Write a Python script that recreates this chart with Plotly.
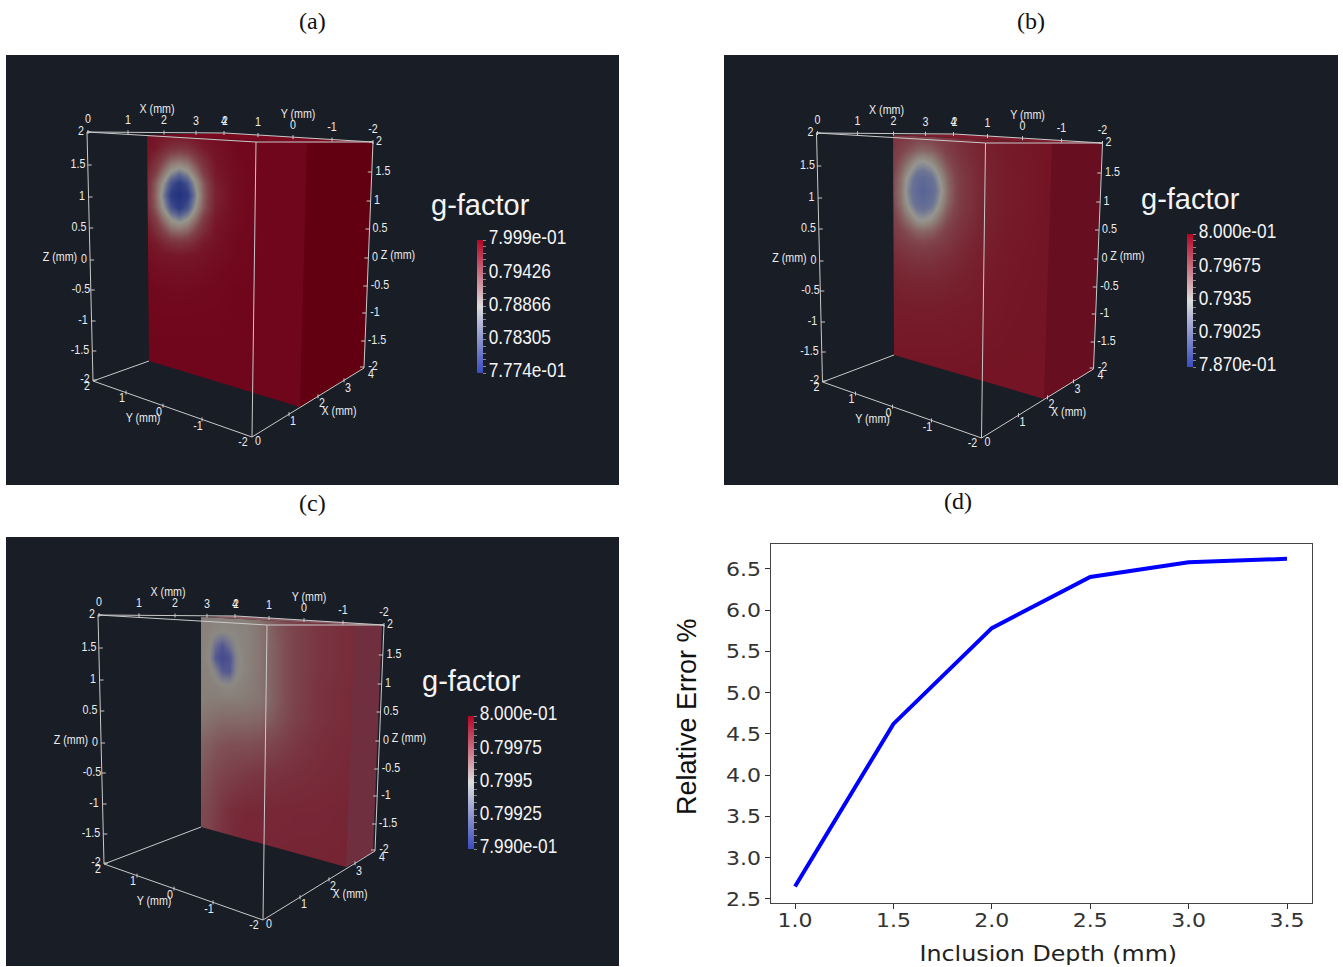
import plotly.graph_objects as go

W, H = 1343, 967
BG = "#191d26"
SANS = "Liberation Sans, Arial, sans-serif"

# ---------- data: panel (d) ----------
depth_mm = [1.0, 1.5, 2.0, 2.5, 3.0, 3.5]
relative_error = [2.65, 4.62, 5.78, 6.40, 6.58, 6.62]

# ---------- data: colour bars ----------
panel_names = ["(a)", "(b)", "(c)", "(d)"]
gmin_a, gmax_a = 0.7774, 0.7999
gmin_b, gmax_b = 0.7870, 0.8000
gmin_c, gmax_c = 0.7990, 0.8000
ticks_a = ["7.774e-01", "0.78305", "0.78866", "0.79426", "7.999e-01"]
ticks_b = ["7.870e-01", "0.79025", "0.7935", "0.79675", "8.000e-01"]
ticks_c = ["7.990e-01", "0.79925", "0.7995", "0.79975", "8.000e-01"]

# ---------- data: g-factor level on the visible face (0 = bottom of bar, 1 = top) ----------
level_a = [
    [.935, .92, .905, .90, .89, .90, .905, .92, .945, .98, 1, 1],
    [.915, .89, .825, .78, .765, .78, .825, .89, .925, .98, 1, 1],
    [.89, .795, .70, .60, .575, .60, .70, .795, .91, .97, 1, 1],
    [.84, .725, .565, .42, .35, .42, .565, .725, .89, .965, 1, 1],
    [.795, .625, .42, .20, .09, .20, .42, .625, .855, .96, 1, 1],
    [.78, .60, .35, .09, .00, .09, .35, .60, .84, .96, 1, 1],
    [.795, .625, .42, .20, .09, .20, .42, .625, .855, .96, 1, 1],
    [.84, .725, .565, .42, .35, .42, .565, .725, .89, .965, 1, 1],
    [.89, .795, .70, .60, .575, .60, .70, .795, .91, .97, 1, 1],
    [.915, .89, .825, .78, .765, .78, .825, .89, .925, .98, 1, 1],
    [.935, .92, .905, .90, .89, .90, .905, .92, .945, .98, 1, 1],
    [.965, .95, .94, .935, .93, .935, .94, .95, .97, .99, 1, 1],
    [.985, .98, .975, .97, .97, .97, .975, .98, .985, 1, 1, 1],
    [.995, .995, .995, .995, .995, .995, .995, .995, .995, 1, 1, 1],
    [1, 1, 1, 1, 1, 1, 1, 1, 1, 1, 1, 1],
    [1, 1, 1, 1, 1, 1, 1, 1, 1, 1, 1, 1],
]
level_b = [
    [.80, .76, .73, .715, .71, .72, .74, .77, .83, .92, .97, 1],
    [.75, .69, .64, .59, .58, .60, .65, .72, .79, .905, .96, 1],
    [.71, .61, .50, .37, .345, .41, .53, .64, .76, .89, .955, 1],
    [.67, .55, .36, .15, .09, .20, .42, .58, .74, .885, .95, 1],
    [.66, .54, .30, .08, .00, .10, .36, .56, .74, .88, .95, 1],
    [.67, .55, .36, .15, .09, .20, .42, .58, .74, .885, .95, 1],
    [.71, .61, .50, .37, .345, .41, .53, .64, .76, .89, .955, 1],
    [.75, .69, .64, .59, .58, .60, .65, .72, .79, .905, .96, 1],
    [.80, .76, .73, .715, .71, .72, .74, .77, .83, .92, .97, 1],
    [.84, .82, .80, .79, .79, .79, .81, .825, .86, .935, .975, 1],
    [.89, .875, .865, .86, .86, .86, .865, .88, .905, .95, .98, 1],
    [.94, .93, .93, .925, .925, .925, .93, .935, .945, .965, .985, 1],
    [.97, .965, .965, .965, .965, .965, .965, .965, .97, .98, .99, 1],
    [.99, .99, .99, .99, .99, .99, .99, .99, .99, .995, 1, 1],
    [1, 1, 1, 1, 1, 1, 1, 1, 1, 1, 1, 1],
]
level_c = [
    [.45, .43, .42, .42, .42, .43, .45, .52, .66, .80, .90, .95],
    [.42, .41, .38, .36, .37, .39, .42, .50, .64, .78, .88, .95],
    [.42, .37, .20, .10, .22, .35, .42, .50, .62, .78, .88, .95],
    [.42, .35, .12, .00, .08, .30, .42, .50, .62, .78, .88, .95],
    [.43, .40, .30, .12, .10, .32, .42, .50, .62, .78, .88, .95],
    [.44, .43, .42, .38, .36, .40, .44, .50, .62, .78, .90, .95],
    [.44, .46, .46, .46, .46, .46, .47, .50, .62, .78, .90, .96],
    [.50, .52, .54, .56, .56, .56, .56, .58, .66, .80, .90, .96],
    [.60, .62, .66, .68, .70, .70, .70, .72, .78, .86, .93, .97],
    [.66, .70, .74, .78, .80, .82, .85, .88, .90, .92, .95, .98],
    [.72, .76, .82, .88, .92, .95, .97, .97, .97, .98, .98, 1],
    [.75, .80, .85, .90, .95, .97, 1, 1, 1, 1, 1, 1],
]

# ---------- layout constants (page pixels) ----------
grid_a = ([147, 155, 163, 171, 179, 187, 195, 203, 215, 235, 260, 307],
          [135, 147, 159, 171, 183, 195, 207, 219, 231, 243, 255, 270, 290, 320, 360, 407])
grid_b = ([893, 901, 909, 917, 923, 931, 939, 947, 960, 985, 1010, 1052],
          [135, 150, 165, 178, 190, 202, 215, 230, 245, 260, 280, 305, 335, 370, 400])
grid_c = ([201, 209, 215, 222, 229, 236, 246, 260, 275, 295, 320, 355],
          [615, 630, 645, 657, 670, 685, 700, 720, 745, 775, 810, 870])

scale_a = [[0, "rgb(35,50,125)"], [.12, "rgb(48,62,132)"], [.27, "rgb(90,100,145)"], [.42, "rgb(150,150,140)"],
           [.52, "rgb(145,125,120)"], [.7, "rgb(128,65,72)"], [.9, "rgb(118,22,40)"], [1, "rgb(112,6,28)"]]
scale_b = [[0, "rgb(88,100,150)"], [.25, "rgb(108,116,148)"], [.42, "rgb(150,150,145)"], [.52, "rgb(142,125,118)"],
           [.68, "rgb(128,70,78)"], [.85, "rgb(120,40,52)"], [1, "rgb(116,20,36)"]]
scale_c = [[0, "rgb(68,74,140)"], [.12, "rgb(85,90,145)"], [.25, "rgb(120,120,142)"], [.35, "rgb(140,138,132)"],
           [.45, "rgb(136,126,120)"], [.7, "rgb(126,78,84)"], [1, "rgb(118,36,52)"]]
bar_scale = [[0, "rgb(59,76,192)"], [.5, "rgb(221,221,221)"], [1, "rgb(180,4,38)"]]

# box geometry template, panel (a) pixels
TL, BLc, FT, FB, RT, RB, BT = (87, 132), (93, 381), (256, 142), (252, 437), (373, 142), (364, 368), (225, 133)

label_text = ["0", "1", "2", "3", "4", "2", "1", "0", "-1", "-2",
              "2", "1.5", "1", "0.5", "0", "-0.5", "-1", "-1.5", "-2",
              "2", "1.5", "1", "0.5", "0", "-0.5", "-1", "-1.5", "-2",
              "2", "1", "0", "-1", "-2", "0", "1", "2", "3", "4",
              "X (mm)", "Y (mm)", "Z (mm)", "Z (mm)", "Y (mm)", "X (mm)"]
label_x = [88, 128, 164, 196, 224, 225, 258, 293, 332, 373,
           81, 78, 82, 79, 84, 81, 83, 80, 85,
           379, 383, 377, 380, 375, 380, 375, 377, 373,
           87, 122, 159, 198, 243, 258, 293, 322, 348, 371,
           157, 298, 60, 398, 143, 339]
label_y = [120, 121, 121, 122, 122, 122, 123, 126, 128, 130,
           132, 165, 197, 228, 260, 290, 321, 351, 380,
           142, 172, 201, 229, 258, 286, 313, 341, 367,
           387, 399, 413, 427, 443, 442, 422, 404, 389, 375,
           110, 115, 258, 256, 419, 412]

panels = [
    dict(off=(0, 0), rect=(6, 55, 619, 485), grid=grid_a, level=level_a, scale=scale_a,
         face=[(147, 135), (307, 143), (300, 407), (149, 361)], side=[(373, 142), (364, 368)],
         side_color="#620012", top_color="#7a0a20",
         gmin=gmin_a, gmax=gmax_a, ticks=ticks_a, bar=(477, 240), title=(481, 205)),
    dict(off=(729.5, 1), rect=(724, 55, 1338, 485), grid=grid_b, level=level_b, scale=scale_b,
         face=[(893, 135), (1052, 143), (1044, 399), (894, 355)], side=[(1102, 143), (1093, 370)],
         side_color="#670e20", top_color="#7d1c2c",
         gmin=gmin_b, gmax=gmax_b, ticks=ticks_b, bar=(1187, 234), title=(1191, 199)),
    dict(off=(11, 483), rect=(6, 537, 619, 966), grid=grid_c, level=level_c, scale=scale_c,
         face=[(201, 617), (355, 625), (346, 867), (201, 827)], side=[(382, 625), (373, 852)],
         side_color="#702f3f", top_color="#8a5a60",
         gmin=gmin_c, gmax=gmax_c, ticks=ticks_c, bar=(468, 716), title=(472, 681)),
]


def lerp_x(p, q, x):
    return p[1] + (q[1] - p[1]) * (x - p[0]) / (q[0] - p[0])


def lerp_y(p, q, y):
    return p[0] + (q[0] - p[0]) * (y - p[1]) / (q[1] - p[1])


fig = go.Figure()
shapes, annotations = [], []


def poly(pts, color):
    fig.add_trace(go.Scatter(x=[p[0] for p in pts] + [pts[0][0]], y=[p[1] for p in pts] + [pts[0][1]],
                             mode="lines", fill="toself", fillcolor=color, line=dict(width=0, color=color),
                             hoverinfo="skip", showlegend=False))


for P in panels:
    dx, dy = P["off"]
    s = lambda p: (p[0] + dx, p[1] + dy)
    x0, y0, x1, y1 = P["rect"]
    shapes.append(dict(type="rect", xref="x", yref="y", x0=x0, y0=y0, x1=x1, y1=y1,
                       fillcolor=BG, line=dict(width=0), layer="below"))

    fig.add_trace(go.Heatmap(x=P["grid"][0], y=P["grid"][1], z=P["level"], zmin=0, zmax=1, zsmooth="best",
                             colorscale=P["scale"], showscale=False, hoverinfo="skip"))

    ftl, ftr, fbr, fbl = P["face"]
    rt, rb = P["side"]
    # surround of the heat map takes the panel colour again
    left = ftl[0] - 40
    right = rt[0] + 20
    poly([(left, ftl[1] - 40), (right, ftl[1] - 40), (right, ftr[1]), ftr, ftl, (left, ftl[1])], BG)
    poly([(left, ftl[1] - 2), ftl, fbl, (left, fbl[1])], BG)
    poly([(left, fbl[1]), fbl, fbr, rb, (right, rb[1]), (right, fbr[1] + 50), (left, fbr[1] + 50)], BG)
    # side and top of the block
    poly([ftr, rt, rb, fbr], P["side_color"])
    poly([ftl, s(BT), rt, ftr], P["top_color"])

    # box edges
    ex, ey = [], []
    for a, b in [(s(TL), s(BLc)), (s(TL), s(FT)), (s(TL), s(BT)), (s(BT), s(RT)), (s(FT), s(RT)),
                 (s(FT), s(FB)), (s(RT), s(RB)), (s(BLc), s(FB)), (s(FB), s(RB)), (s(BLc), fbl)]:
        ex += [a[0], b[0], None]
        ey += [a[1], b[1], None]
    # tick marks on the box edges, at the labels
    tick_len = 4
    for i in range(5):
        px = label_x[i] + dx
        py = lerp_x(s(TL), s(BT), px)
        ex += [px, px, None]
        ey += [py - tick_len / 2, py + tick_len / 2, None]
    for i in range(6, 10):
        px = label_x[i] + dx
        py = lerp_x(s(BT), s(RT), px)
        ex += [px, px, None]
        ey += [py - tick_len / 2, py + tick_len / 2, None]
    for i in range(10, 19):
        py = label_y[i] + dy
        px = lerp_y(s(TL), s(BLc), py)
        ex += [px, px + tick_len, None]
        ey += [py, py, None]
    for i in range(19, 28):
        py = label_y[i] + dy
        px = lerp_y(s(RT), s(RB), py)
        ex += [px - tick_len, px, None]
        ey += [py, py, None]
    for i in range(29, 32):
        px = label_x[i] + dx + 4
        py = lerp_x(s(BLc), s(FB), px)
        ex += [px, px, None]
        ey += [py - tick_len / 2, py + tick_len / 2, None]
    for i in range(34, 37):
        px = label_x[i] + dx - 4
        py = lerp_x(s(FB), s(RB), px)
        ex += [px, px, None]
        ey += [py - tick_len / 2, py + tick_len / 2, None]
    fig.add_trace(go.Scatter(x=ex, y=ey, mode="lines", line=dict(color="#c9c9c9", width=1),
                             hoverinfo="skip", showlegend=False))

    # axis labels
    fig.add_trace(go.Scatter(x=[v + dx for v in label_x], y=[v + dy for v in label_y], text=label_text,
                             mode="text", textposition="middle center",
                             textfont=dict(family=SANS, size=13, color="#ececec"),
                             hoverinfo="skip", showlegend=False))

    # colour bar
    step = (P["gmax"] - P["gmin"]) / 20
    tickvals = [P["gmin"] + i * step for i in range(21)]
    ticktext = [P["ticks"][i // 5] if i % 5 == 0 else " " for i in range(21)]
    fig.add_trace(go.Scatter(x=[None, None], y=[None, None], mode="markers", hoverinfo="skip", showlegend=False,
                             marker=dict(color=[P["gmin"], P["gmax"]], cmin=P["gmin"], cmax=P["gmax"],
                                         colorscale=bar_scale, showscale=True,
                                         colorbar=dict(x=P["bar"][0] / W, xanchor="left", xpad=0,
                                                       y=1 - P["bar"][1] / H, yanchor="top", ypad=0,
                                                       lenmode="pixels", len=133, thicknessmode="pixels", thickness=6,
                                                       outlinewidth=0, bgcolor="rgba(0,0,0,0)",
                                                       tickmode="array", tickvals=tickvals, ticktext=ticktext,
                                                       ticks="outside", ticklen=3, tickwidth=1, tickcolor="#8a8a8a",
                                                       tickfont=dict(family=SANS, size=21, color="#f4f4f4")))))
    annotations.append(dict(text="g-factor", x=P["title"][0] - 1, y=P["title"][1], xref="x", yref="y",
                            showarrow=False, font=dict(family=SANS, size=29, color="#f4f4f4")))

# panel (d)
fig.add_trace(go.Scatter(x=depth_mm, y=relative_error, mode="lines", xaxis="x2", yaxis="y2",
                         line=dict(color="#0000ff", width=4), showlegend=False))

for name, px, py in zip(panel_names, [312, 1031, 312, 958], [21, 21, 503, 501]):
    annotations.append(dict(text=name, x=px, y=py, xref="x", yref="y", showarrow=False,
                            font=dict(family="Liberation Serif, Times New Roman, serif", size=24, color="#111111")))
annotations.append(dict(text="Inclusion Depth (mm)", x=1048.5, y=953, xref="x", yref="y", showarrow=False,
                        font=dict(family="DejaVu Sans", size=22, color="#222222")))
annotations.append(dict(text="Relative Error %", x=687, y=717, xref="x", yref="y", showarrow=False, textangle=-90,
                        font=dict(family=SANS, size=27, color="#111111")))

fig.update_layout(
    width=W, height=H, margin=dict(l=0, r=0, t=0, b=0, pad=0),
    paper_bgcolor="white", plot_bgcolor="rgba(0,0,0,0)", showlegend=False,
    shapes=shapes, annotations=annotations,
    xaxis=dict(domain=[0, 1], range=[0, W], visible=False, fixedrange=True),
    yaxis=dict(domain=[0, 1], range=[H, 0], visible=False, fixedrange=True),
    xaxis2=dict(domain=[771 / W, 1312 / W], anchor="y2", range=[0.878, 3.627], automargin=False,
                tickmode="array", tickvals=depth_mm, tickformat=".1f",
                ticks="outside", ticklen=5, tickcolor="#333333",
                tickfont=dict(family="DejaVu Sans", size=20, color="#333333"),
                showgrid=False, zeroline=False, showline=True, mirror=True, linecolor="#444444", linewidth=1),
    yaxis2=dict(domain=[1 - 903 / H, 1 - 544 / H], anchor="x2", range=[2.45, 6.80], automargin=False,
                tickmode="array", tickvals=[2.5, 3.0, 3.5, 4.0, 4.5, 5.0, 5.5, 6.0, 6.5], tickformat=".1f",
                ticks="outside", ticklen=5, tickcolor="#333333",
                tickfont=dict(family="DejaVu Sans", size=20, color="#333333"),
                showgrid=False, zeroline=False, showline=True, mirror=True, linecolor="#444444", linewidth=1),
)

# The reference's text is stretched or squeezed sideways; fit real text to the same widths.
squeeze = """
document.body.style.margin='0';document.body.style.overflow='hidden';
var gd=document.getElementById('{plot_id}');
var factors={'13px':0.82,'21px':0.82,'20px':1.1,'22px':1.08};
function fit(){gd.querySelectorAll('svg text').forEach(function(t){
  var fs=t.style.fontSize,f=factors[fs];
  if(!f||!t.textContent.trim()||t.getAttribute('textLength'))return;
  var n=t.getComputedTextLength();
  if(n>0){t.setAttribute('textLength',n*f);t.setAttribute('lengthAdjust','spacingAndGlyphs');
    if(fs==='21px'){t.setAttribute('dy','-3');t.setAttribute('dx','-1');}
    if(t.parentNode&&t.parentNode.classList&&t.parentNode.classList.contains('x2tick')){t.setAttribute('dy','-6');}
    if(t.classList.contains('x2tick')){t.setAttribute('dy','-6');}
  }
});}
fit();gd.on('plotly_afterplot',fit);setTimeout(fit,50);setTimeout(fit,300);
"""
fig.write_html("out.html", post_script=squeeze, config=dict(displayModeBar=False))
